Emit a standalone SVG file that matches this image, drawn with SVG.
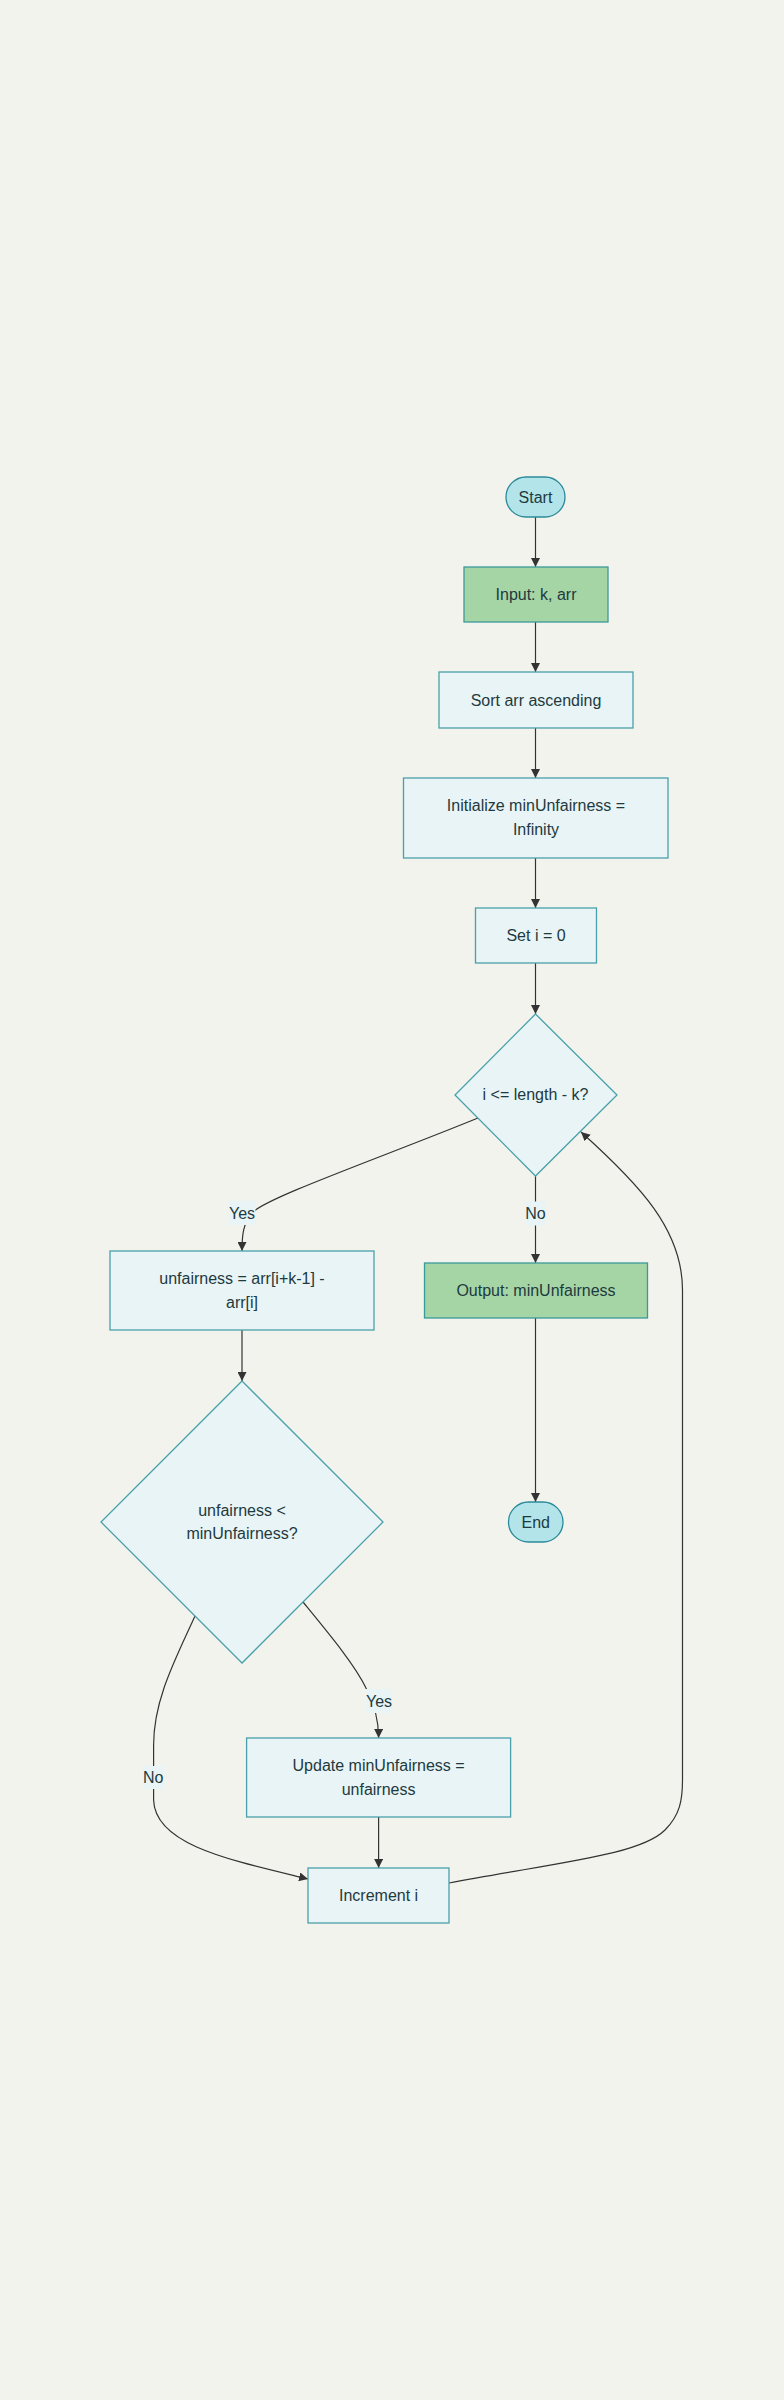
<svg xmlns="http://www.w3.org/2000/svg" width="784" height="2400" viewBox="0 0 784 2400">
<style>
text{font-family:"Liberation Sans",Arial,sans-serif;font-size:16px;fill:#1e3a3f;text-anchor:middle;dominant-baseline:central}
.term{fill:#b2e4ea;stroke:#2b8a99;stroke-width:1.3}
.io{fill:#a5d5a5;stroke:#3a9a9a;stroke-width:1.3}
.proc{fill:#e8f4f5;stroke:#4aa0aa;stroke-width:1.3}
.edge{fill:none;stroke:#333;stroke-width:1.2}
.lbl{fill:#e8f4f5}
</style>
<defs>
<marker id="arr" viewBox="0 0 10 10" refX="10" refY="5" markerWidth="9" markerHeight="9" markerUnits="userSpaceOnUse" orient="auto">
<path d="M0,0 L10,5 L0,10 z" fill="#333"/>
</marker>
</defs>
<rect width="784" height="2400" fill="#f3f3ee"/>
<g id="connectors">
<path class="edge" marker-end="url(#arr)" d="M535.5,517 L535.5,567"/>
<path class="edge" marker-end="url(#arr)" d="M535.5,622 L535.5,672"/>
<path class="edge" marker-end="url(#arr)" d="M535.5,728 L535.5,778"/>
<path class="edge" marker-end="url(#arr)" d="M535.5,858 L535.5,908"/>
<path class="edge" marker-end="url(#arr)" d="M535.5,963 L535.5,1014"/>
<path class="edge" marker-end="url(#arr)" d="M478,1118 C380,1158 265,1198 252,1213 C243,1224 242,1235 242,1251"/>
<path class="edge" marker-end="url(#arr)" d="M535.5,1176 L535.5,1263"/>
<path class="edge" marker-end="url(#arr)" d="M242,1330 L242,1381"/>
<path class="edge" marker-end="url(#arr)" d="M535.5,1318 L535.5,1502"/>
<path class="edge" marker-end="url(#arr)" d="M303,1602 C330,1635 355,1665 366,1688 C375,1705 378.6,1720 378.6,1738"/>
<path class="edge" marker-end="url(#arr)" d="M195,1616 C175,1660 153.6,1700 153.6,1745 L153.6,1800 C155,1845 230,1860 308,1879"/>
<path class="edge" marker-end="url(#arr)" d="M378.6,1817 L378.6,1868"/>
<path class="edge" marker-end="url(#arr)" d="M449,1883 C560,1862 640,1855 665,1830 C680,1815 682.5,1800 682.5,1780 L682.5,1290 C682.5,1230 640,1185 581,1132"/>
<rect class="lbl" x="228.5" y="1201" width="27" height="24"/>
<text x="242" y="1213">Yes</text>
<rect class="lbl" x="525.5" y="1201.5" width="20" height="24"/>
<text x="535.5" y="1213.5">No</text>
<rect class="lbl" x="366" y="1689" width="26" height="24"/>
<text x="379" y="1701">Yes</text>
<rect class="lbl" x="143" y="1766" width="20" height="23"/>
<text x="153.2" y="1777.5">No</text>
</g>
<g id="start"><rect class="term" x="506" y="477" width="59" height="40" rx="20"/><text x="535.5" y="497">Start</text></g>
<g id="input"><rect class="io" x="464" y="567" width="144" height="55"/><text x="536" y="594.5">Input: k, arr</text></g>
<g id="sort"><rect class="proc" x="439" y="672" width="194" height="56"/><text x="536" y="700">Sort arr ascending</text></g>
<g id="init"><rect class="proc" x="403.5" y="778" width="264.5" height="80"/><text x="536" y="805.5">Initialize minUnfairness =</text><text x="536" y="829.5">Infinity</text></g>
<g id="seti"><rect class="proc" x="475.5" y="908" width="121" height="55"/><text x="536" y="935.5">Set i = 0</text></g>
<g id="cond1"><polygon class="proc" points="535.5,1014 617,1095 535.5,1176 455,1095"/><text x="535.5" y="1094.5">i &lt;= length - k?</text></g>
<g id="calc"><rect class="proc" x="110" y="1251" width="264" height="79"/><text x="242" y="1278.5">unfairness = arr[i+k-1] -</text><text x="242" y="1302.5">arr[i]</text></g>
<g id="output"><rect class="io" x="424.5" y="1263" width="223" height="55"/><text x="536" y="1290.5">Output: minUnfairness</text></g>
<g id="end"><rect class="term" x="508.5" y="1502" width="54.5" height="40" rx="20"/><text x="535.7" y="1522">End</text></g>
<g id="cond2"><polygon class="proc" points="242,1381 383,1522 242,1663 101,1522"/><text x="242" y="1510">unfairness &lt;</text><text x="242" y="1533.5">minUnfairness?</text></g>
<g id="update"><rect class="proc" x="246.6" y="1738" width="264" height="79"/><text x="378.6" y="1765.5">Update minUnfairness =</text><text x="378.6" y="1789.5">unfairness</text></g>
<g id="incr"><rect class="proc" x="308" y="1868" width="141" height="55"/><text x="378.6" y="1895.5">Increment i</text></g>
</svg>
